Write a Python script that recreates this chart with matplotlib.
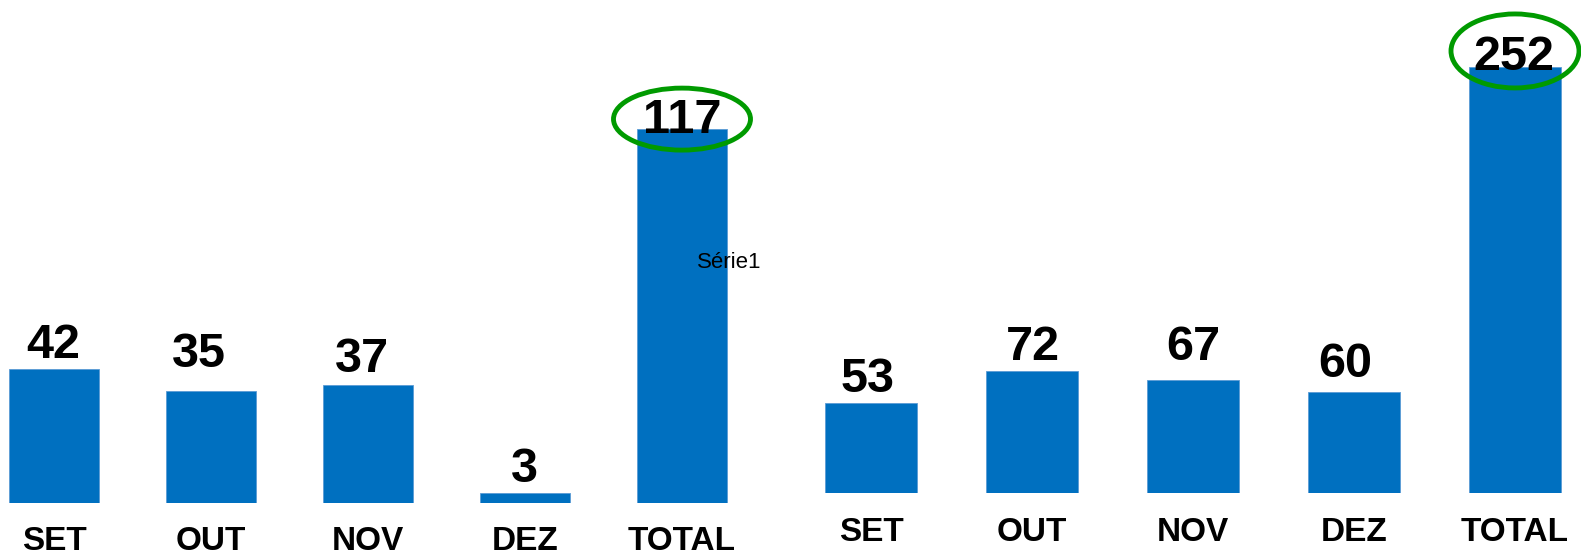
import matplotlib
matplotlib.use("Agg")
import matplotlib.pyplot as plt
import matplotlib.transforms as mtransforms
from matplotlib.patches import Ellipse

# Monthly counts for the two periods, with their totals
categories = ["SET", "OUT", "NOV", "DEZ", "TOTAL"]
left_values = [42, 35, 37, 3, 117]
right_values = [53, 72, 67, 60, 252]
series_name = "Série1"

BAR_COLOR = "#0070C0"
RING_COLOR = "#009A00"
FONT = "Liberation Sans"

W, H = 1581, 553
fig = plt.figure(figsize=(W / 100, H / 100), dpi=100)
fig.patch.set_facecolor("white")


def px(x0, y0, w, h):
    """Axes rectangle from pixel box (top-left origin)."""
    return [x0 / W, 1 - (y0 + h) / H, w / W, h / H]


# (axes box, y-limit, x-limits, bar width, label nudges in px (dx, gap), ring (dx, dy, w, h) px)
panels = [
    dict(values=left_values,
         box=px(0, 0, 790, 503), ymax=157.4,
         xlim=(-54 / 157, (790 - 54) / 157), width=0.573,
         nudges=[(-1, 11), (-12, 24), (-6, 13), (-1, 11), (0, -4)],
         ring=(0, 10, 137, 62), pad=16.5),
    dict(values=right_values,
         box=px(790, 0, 791, 493), ymax=291.6,
         xlim=((790 - 871) / 161, (1581 - 871) / 161), width=0.571,
         nudges=[(-3, 11), (1, 11), (0, 20), (-9, 15), (-1, -3)],
         ring=(0, 16, 128, 74), pad=17.5),
]

for p in panels:
    ax = fig.add_axes(p["box"])
    ax.set_facecolor("none")
    xs = list(range(len(categories)))
    ax.bar(xs, p["values"], width=p["width"], color=BAR_COLOR,
           edgecolor="#5B9BD5", linewidth=0.6)
    ax.set_ylim(0, p["ymax"])
    ax.set_xlim(*p["xlim"])
    ax.set_yticks([])
    ax.set_xticks(xs)
    ax.set_xticklabels(categories, fontsize=24, fontweight="bold",
                       family=FONT)
    ax.tick_params(axis="x", length=0, pad=p["pad"])
    for s in ax.spines.values():
        s.set_visible(False)

    for x, v, (dx, gap) in zip(xs, p["values"], p["nudges"]):
        ax.annotate(str(v), xy=(x, v), xytext=(dx * 0.72, gap * 0.72),
                    textcoords="offset points", ha="center", va="baseline",
                    fontsize=35, fontweight="bold", family=FONT,
                    color="black", annotation_clip=False)

    # green ring highlighting the total
    rx, ry, rw, rh = p["ring"]
    tx = xs[-1]
    tv = p["values"][-1]
    trans = mtransforms.ScaledTranslation(tx, tv, ax.transData)
    ring = Ellipse((rx, ry), rw, rh, fill=False, edgecolor=RING_COLOR,
                   linewidth=3.5, transform=mtransforms.Affine2D() + trans,
                   clip_on=False)
    fig.add_artist(ring)

fig.text(697 / W, 1 - 268 / H, series_name, ha="left", va="baseline",
         fontsize=16, family=FONT, color="black")

fig.savefig("out.png", dpi=100, facecolor="white")
